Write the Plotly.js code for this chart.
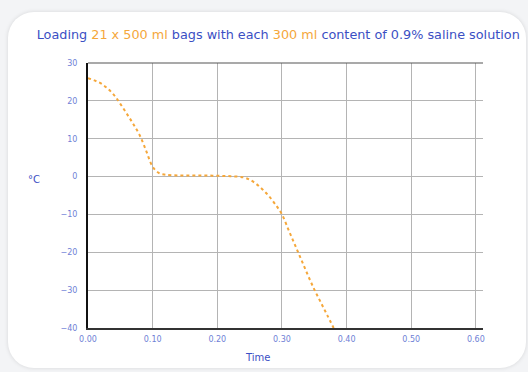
<!DOCTYPE html>
<html>
<head>
<meta charset="utf-8">
<script src="https://cdn.plot.ly/plotly-3.0.1.min.js"></script>
<style>
  html, body { margin: 0; padding: 0; width: 528px; height: 372px; background: #f3f4f6; overflow: hidden; }
  #card { position: absolute; left: 8px; top: 12px; width: 518px; height: 356px; background: #ffffff; border-radius: 26px; box-shadow: 0 0 4px rgba(0,0,0,0.12); }
  #chart { position: absolute; left: 0; top: 0; width: 528px; height: 372px; }
</style>
</head>
<body>
<div id="card"></div>
<div id="chart"></div>
<script>
// Time (h:mm as decimal label) and temperature (°C)
const time = [0, 0.01, 0.02, 0.03, 0.04, 0.05, 0.06, 0.07, 0.08, 0.09, 0.10, 0.11, 0.12, 0.14, 0.16, 0.18, 0.20, 0.22, 0.24, 0.25, 0.26, 0.27, 0.28, 0.29, 0.30, 0.31, 0.32, 0.33, 0.34, 0.35, 0.36, 0.37, 0.38];
const temperature = [26, 25.4, 24.6, 23.3, 21.6, 19.2, 16.6, 13.9, 10.9, 6.8, 2.6, 0.9, 0.5, 0.3, 0.3, 0.3, 0.2, 0.1, -0.2, -0.8, -1.9, -3.4, -5.2, -7.4, -10, -14, -18, -22, -26, -29.8, -33.2, -36.6, -40];
const xTicks = [0, 0.1, 0.2, 0.3, 0.4, 0.5, 0.6];
const xTickLabels = ["0.00", "0.10", "0.20", "0.30", "0.40", "0.50", "0.60"];
const yTicks = [-40, -30, -20, -10, 0, 10, 20, 30];

const blue = '#3b4fc4';
const orange = '#f5a73a';
const tickBlue = '#6f7fd6';

const trace = {
  x: time, y: temperature, type: 'scatter', mode: 'lines',
  line: { color: orange, width: 2, dash: 'dot', shape: 'spline' },
  hoverinfo: 'skip'
};

const layout = {
  width: 528, height: 372,
  margin: { l: 88, r: 45, t: 63, b: 44 },
  paper_bgcolor: 'rgba(0,0,0,0)',
  plot_bgcolor: 'rgba(0,0,0,0)',
  showlegend: false,
  font: { family: 'DejaVu Sans, Verdana, sans-serif' },
  title: {
    text: 'Loading <span style="color:' + orange + '">21 x 500 ml</span> bags with each <span style="color:' + orange + '">300 ml</span> content of 0.9% saline solution',
    font: { size: 12.8, color: blue, family: 'DejaVu Sans, Verdana, sans-serif' },
    x: 0.527, xref: 'container', xanchor: 'center',
    y: 0.908, yref: 'container', yanchor: 'middle'
  },
  xaxis: {
    range: [0, 0.611], tickvals: xTicks, ticktext: xTickLabels,
    showgrid: true, gridcolor: '#b4b4b4', gridwidth: 1,
    showline: true, linecolor: '#333333', linewidth: 1.5,
    zeroline: false, ticks: '', ticklabelstandoff: 3,
    tickfont: { size: 8, color: tickBlue }
  },
  yaxis: {
    range: [-40, 30], tickvals: yTicks,
    showgrid: true, gridcolor: '#b4b4b4', gridwidth: 1,
    showline: true, linecolor: '#111111', linewidth: 2,
    zeroline: false, ticks: '', ticklabelstandoff: 7,
    tickfont: { size: 8, color: tickBlue }
  },
  annotations: [
    { text: '°C', xref: 'paper', yref: 'paper', x: -0.137, y: 0.56, xanchor: 'center', yanchor: 'middle', showarrow: false, font: { size: 10, color: blue } },
    { text: 'Time', xref: 'paper', yref: 'paper', x: 0.43, y: -0.11, xanchor: 'center', yanchor: 'middle', showarrow: false, font: { size: 10, color: blue } }
  ],
  shapes: [
    { type: 'line', xref: 'paper', yref: 'paper', x0: 0, x1: 1, y0: 1, y1: 1, line: { color: '#555555', width: 1.2 } }
  ]
};

Plotly.newPlot('chart', [trace], layout, { displayModeBar: false, staticPlot: true });
</script>
</body>
</html>
